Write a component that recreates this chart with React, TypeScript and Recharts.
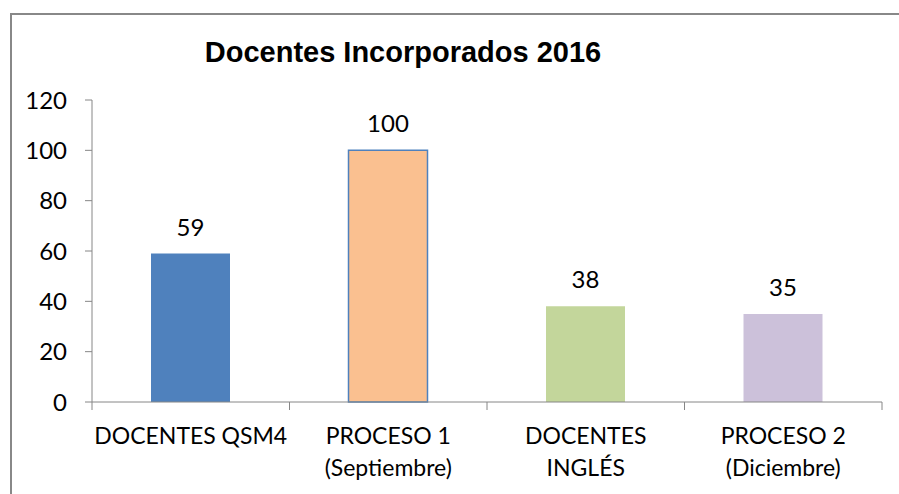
import React from 'react';
import { BarChart, Bar, XAxis, YAxis, Cell, LabelList } from 'recharts';

const categories = ['DOCENTES QSM4', 'PROCESO 1\n(Septiembre)', 'DOCENTES\nINGLÉS', 'PROCESO 2\n(Diciembre)'];
const values = [59, 100, 38, 35];
const fills = ['#4F81BD', '#FAC090', '#C3D69B', '#CCC1DA'];
const strokes = ['none', '#4F81BD', 'none', 'none'];
const yTicks = [0, 20, 40, 60, 80, 100, 120];

const data = categories.map((name, i) => ({ name, value: values[i] }));

const AXIS = '#868686';
const FONT = 'Lato, Calibri, sans-serif';
const TICK_SIZE = 8;
const TICK_MARGIN = 2;

// category labels, with tick marks drawn between categories like Excel does
function CategoryTick(props: any) {
  const { x, y, payload, index, visibleTicksCount } = props;
  const half = payload.offset ?? 0;
  const lines = String(payload.value).split('\n');
  const top = y - TICK_MARGIN - TICK_SIZE;
  return (
    <g>
      <line x1={x - half} x2={x - half} y1={top} y2={top + TICK_SIZE} stroke={AXIS} />
      {index === visibleTicksCount - 1 && (
        <line x1={x + half} x2={x + half} y1={top} y2={top + TICK_SIZE} stroke={AXIS} />
      )}
      <text x={x} y={y} textAnchor="middle" fontFamily={FONT} fontSize={23} fill="#000">
        {lines.map((l, i) => (
          <tspan key={i} x={x} dy={i === 0 ? 32 : 32}>
            {l}
          </tspan>
        ))}
      </text>
    </g>
  );
}

export default function App() {
  return (
    <div style={{ position: 'absolute', left: 0, top: 0, width: 899, height: 494, overflow: 'hidden', background: '#fff' }}>
      <div
        style={{
          position: 'absolute',
          left: 10,
          top: 13,
          width: 1000,
          height: 1000,
          borderLeft: '2px solid #888',
          borderTop: '2px solid #888',
        }}
      />
      <div
        style={{
          position: 'absolute',
          left: 203,
          top: 34,
          width: 400,
          textAlign: 'center',
          fontFamily: '"Liberation Sans", Arial, sans-serif',
          fontWeight: 'bold',
          fontSize: 29,
          lineHeight: '36px',
          whiteSpace: 'nowrap',
          color: '#000',
        }}
      >
        Docentes Incorporados 2016
      </div>
      <div style={{ position: 'absolute', left: 0, top: 0 }}>
        <BarChart width={899} height={494} data={data} margin={{ top: 100, right: 17, bottom: 0, left: 0 }}>
          <XAxis
            dataKey="name"
            height={92}
            axisLine={{ stroke: AXIS }}
            tickLine={false}
            tickSize={TICK_SIZE}
            tickMargin={TICK_MARGIN}
            interval={0}
            tick={<CategoryTick />}
          />
          <YAxis
            width={92}
            domain={[0, 120]}
            ticks={yTicks}
            interval={0}
            axisLine={{ stroke: AXIS }}
            tickLine={{ stroke: AXIS }}
            tickSize={7}
            tickMargin={18}
            tick={{ fill: '#000', fontSize: 24, fontFamily: FONT }}
          />
          <Bar dataKey="value" barSize={79} isAnimationActive={false}>
            {data.map((d, i) => (
              <Cell key={d.name} fill={fills[i]} stroke={strokes[i]} strokeWidth={1.5} />
            ))}
            <LabelList dataKey="value" position="top" offset={18} fill="#000" fontSize={24} fontFamily={FONT} />
          </Bar>
        </BarChart>
      </div>
    </div>
  );
}
